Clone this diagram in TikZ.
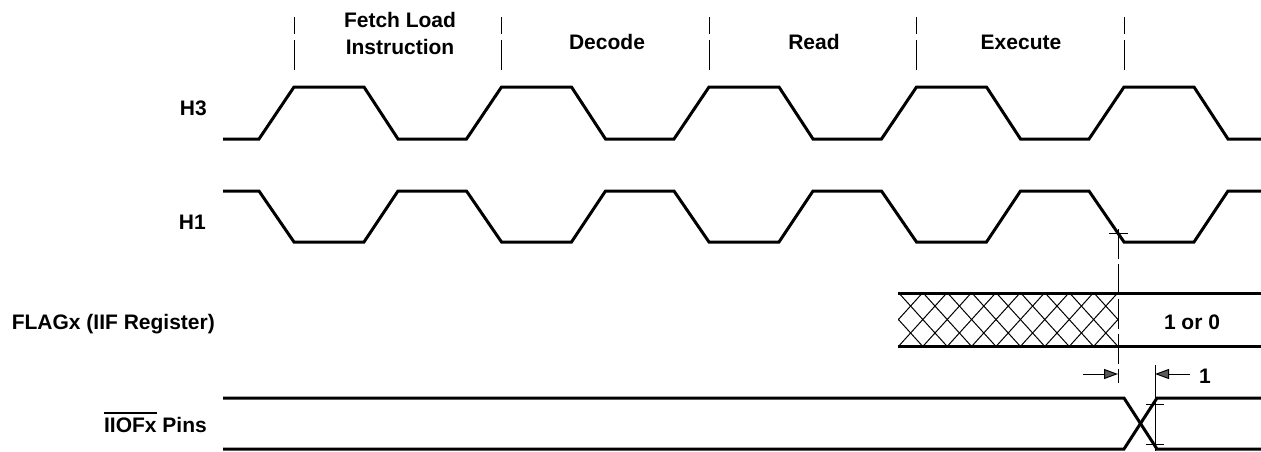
\documentclass[tikz,border=0pt]{standalone}
\usepackage{fontspec}
\setmainfont{Liberation Sans}
\usetikzlibrary{arrows.meta}
\newcommand\myovl[1]{\leavevmode\vbox{\hrule height 2.4pt\kern 3.5pt\hbox{#1}}}
\begin{document}
\begin{tikzpicture}[x=1pt,y=-1pt,
  lbl/.style={font=\bfseries\fontsize{21}{27}\selectfont,inner sep=0pt},
  wave/.style={line width=3pt,line join=miter,line cap=butt},
  phase/.style={line width=1pt,dash pattern=on 17pt off 6pt on 30pt off 200pt},
  guide/.style={line width=1pt,dash pattern=on 30pt off 5pt},
  thin/.style={line width=1pt},
  hatch/.style={line width=1pt},
  dimarrow/.style={line width=1pt,-{Triangle[length=14pt,width=10pt,fill=black!65]}}
]
\useasboundingbox (0,0) rectangle (1261,451);

% phase boundaries
\foreach \x in {294,501.5,709,916.5,1124}
  \draw[phase] (\x,17) -- (\x,70);

% phase labels
\node[lbl,align=center] (fetch) at (400,33) {Fetch Load\\Instruction};
\node[lbl,anchor=base] (decode) at (607,49) {Decode};
\node[lbl,anchor=base] (read) at (814,49) {Read};
\node[lbl,anchor=base] (exec) at (1021,49) {Execute};

% signal labels
\node[lbl,anchor=base east] (h3) at (207,115.5) {H3};
\node[lbl,anchor=base east] (h1) at (206,229.5) {H1};
\node[lbl,anchor=base east] (flag) at (215,329.5) {FLAGx (IIF Register)};
\node[lbl,anchor=base east] (iiof) at (207,432.5) {\myovl{IIOFx} Pins};

% H3
\draw[wave] (223,139) -- (259,139) -- (294,87) -- (364,87) -- (398,139)
  -- (466.5,139) -- (501.5,87) -- (571.5,87) -- (605.5,139)
  -- (674,139) -- (709,87) -- (779,87) -- (813,139)
  -- (881.5,139) -- (916.5,87) -- (986.5,87) -- (1020.5,139)
  -- (1089,139) -- (1124,87) -- (1194,87) -- (1228,139) -- (1261,139);

% H1
\draw[wave] (223,191) -- (259,191) -- (294,242) -- (364,242) -- (398,191)
  -- (466.5,191) -- (501.5,242) -- (571.5,242) -- (605.5,191)
  -- (674,191) -- (709,242) -- (779,242) -- (813,191)
  -- (881.5,191) -- (916.5,242) -- (986.5,242) -- (1020.5,191)
  -- (1089,191) -- (1124,242) -- (1194,242) -- (1228,191) -- (1261,191);

% FLAGx hatch
\begin{scope}
  \clip (898,293) rectangle (1118.5,346);
  \foreach \x in {850,874.4,...,1130}
    \draw[hatch] (\x,293) -- ++(48,53);
  \foreach \x in {898,922.4,...,1180}
    \draw[hatch] (\x,293) -- ++(-48,53);
\end{scope}
\draw[wave] (898,293) -- (1261,293);
\draw[wave] (898,346) -- (1261,346);
\node[lbl,anchor=base] (val) at (1192,329.5) {1 or 0};

% IIOFx
\draw[wave] (223,398) -- (1124,398) -- (1157,449) -- (1261,449);
\draw[wave] (223,449) -- (1124,449) -- (1157,398) -- (1261,398);

% guide lines and ticks
\coordinate (g1) at (1118,229);
\coordinate (g2) at (1118,383);
\draw[guide] (g1) -- (g2);
\draw[thin] (1109,233) -- (1128,233);
\coordinate (v1) at (1155,365);
\coordinate (v2) at (1155,451);
\draw[thin] (v1) -- (v2);
\draw[thin] (1146,404) -- (1164,404);
\draw[thin] (1146,444) -- (1164,444);

% dimension arrows
\coordinate (a1) at (1083,374);
\coordinate (a2) at (1118,374);
\coordinate (b1) at (1190,374);
\coordinate (b2) at (1155,374);
\draw[dimarrow] (a1) -- (a2);
\draw[dimarrow] (b1) -- (b2);
\node[lbl,anchor=base] (one) at (1205,383.5) {1};
\end{tikzpicture}
\end{document}
